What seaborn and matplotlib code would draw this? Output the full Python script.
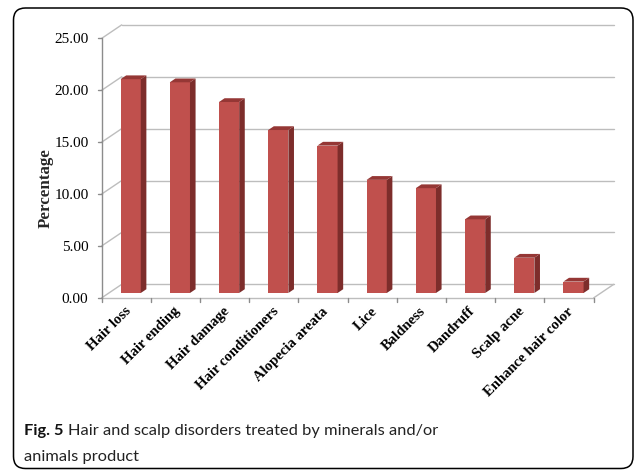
"""
Hair and scalp disorders treated by minerals and/or animals product (Fig. 5)
Excel-like 3D column chart redrawn with seaborn + matplotlib
"""

import matplotlib
matplotlib.use('Agg')
import matplotlib.pyplot as plt
import matplotlib.transforms as mtransforms
from matplotlib.patches import Polygon, FancyBboxPatch
import seaborn as sns

# data
categories = ['Hair loss', 'Hair ending', 'Hair damage', 'Hair conditioners',
              'Alopecia areata', 'Lice', 'Baldness', 'Dandruff', 'Scalp acne',
              'Enhance hair color']
percentages = [20.6, 20.3, 18.4, 15.7, 14.2, 10.9, 10.1, 7.1, 3.4, 1.1]
y_ticks = [0, 5, 10, 15, 20, 25]

FRONT = '#c0504d'
SIDE = '#7d2d2b'
TOP = '#953735'
GRID = '#bdbdbd'
AXIS = '#8c8c8c'

# 3D depth of the chart box (pixels), bars sit at mid-depth
DEPTH_X, DEPTH_Y = 20, 13.5
BAR_PLANE = 0.36
BAR_DEPTH = 0.28

sns.set_theme(style='white')
plt.rcParams['font.family'] = ['Liberation Serif', 'DejaVu Serif']

fig = plt.figure(figsize=(6.36, 4.7), dpi=100)
ax = fig.add_axes([0.1712, 0.3766, 0.7736, 0.5521])

sns.barplot(x=categories, y=percentages, color=FRONT, saturation=1,
            width=0.41, linewidth=0, ax=ax, zorder=3)
ax.set_xlim(-0.5, len(categories) - 0.5)
ax.set_ylim(y_ticks[0], y_ticks[-1])
sns.despine(ax=ax, left=True, bottom=True, top=True, right=True)
ax.set_facecolor('none')

# pixel -> data units
px_x = (len(categories)) / ax.bbox.width
px_y = (y_ticks[-1] - y_ticks[0]) / ax.bbox.height

fx, fy = -BAR_PLANE * DEPTH_X * px_x, -BAR_PLANE * DEPTH_Y * px_y
bx, by = (1 - BAR_PLANE) * DEPTH_X * px_x, (1 - BAR_PLANE) * DEPTH_Y * px_y
sx, sy = BAR_DEPTH * DEPTH_X * px_x, BAR_DEPTH * DEPTH_Y * px_y

x_left, x_right = -0.5, len(categories) - 0.5

# back wall gridlines + left wall diagonals
for v in y_ticks:
    ax.plot([x_left + bx, x_right + bx], [v + by, v + by], color=GRID,
            lw=1, zorder=0, clip_on=False)
    ax.plot([x_left + fx, x_left + bx], [v + fy, v + by], color=GRID,
            lw=1, zorder=0, clip_on=False)
    # small tick on the front axis
    ax.plot([x_left + fx - 4 * px_x, x_left + fx], [v + fy, v + fy],
            color=AXIS, lw=1, zorder=1, clip_on=False)

# floor
ax.plot([x_left + fx, x_right + fx], [fy, fy], color=GRID, lw=1,
        zorder=1, clip_on=False)
ax.plot([x_right + fx, x_right + bx], [fy, by], color=GRID, lw=1,
        zorder=1, clip_on=False)
for k in range(len(categories) + 1):
    ax.plot([k - 0.5 + fx, k - 0.5 + fx], [fy, fy - 4 * px_y], color=AXIS,
            lw=1, zorder=1, clip_on=False)

# front vertical axis
ax.plot([x_left + fx, x_left + fx], [y_ticks[0] + fy, y_ticks[-1] + fy],
        color=AXIS, lw=1, zorder=1, clip_on=False)

# 3D sides and tops of the bars
for p in ax.patches:
    x0 = p.get_x() - sx / 2
    p.set_x(x0)
    x1 = x0 + p.get_width()
    h = p.get_height()
    ax.add_patch(Polygon([(x1, 0), (x1 + sx, sy), (x1 + sx, h + sy), (x1, h)],
                         closed=True, facecolor=SIDE, edgecolor='none',
                         zorder=3, clip_on=False))
    ax.add_patch(Polygon([(x0, h), (x1, h), (x1 + sx, h + sy), (x0 + sx, h + sy)],
                         closed=True, facecolor=TOP, edgecolor='none',
                         zorder=3, clip_on=False))

# ticks and labels
front_shift = mtransforms.ScaledTranslation(-BAR_PLANE * DEPTH_X / 100,
                                            -BAR_PLANE * DEPTH_Y / 100,
                                            fig.dpi_scale_trans)
ax.set_yticks(y_ticks)
ax.set_yticklabels([f'{v:.2f}' for v in y_ticks], fontsize=11)
ax.tick_params(axis='y', length=0, pad=9.5, colors='black')
for lab in ax.get_yticklabels():
    lab.set_transform(lab.get_transform() + front_shift)

ax.set_xticks(range(len(categories)))
ax.set_xticklabels(categories, rotation=45, ha='right', rotation_mode='anchor',
                   fontweight='bold', fontsize=10.6)
ax.tick_params(axis='x', length=0, pad=5, colors='black')
x_shift = mtransforms.ScaledTranslation(-2 / 100, 0, fig.dpi_scale_trans)
for lab in ax.get_xticklabels():
    lab.set_transform(lab.get_transform() + front_shift + x_shift)

ax.set_xlabel('')
ax.set_ylabel('Percentage', fontweight='bold', fontsize=12.2)
ax.yaxis.set_label_coords(-0.113, 0.405)

# rounded frame round the figure
frame = FancyBboxPatch((0.135, 0.015), 6.195, 4.605,
                       boxstyle='round,pad=0,rounding_size=0.12',
                       transform=fig.dpi_scale_trans, facecolor='none',
                       edgecolor='black', lw=1.1)
fig.patches.append(frame)

# caption
renderer = fig.canvas.get_renderer()
cap_font = ['Lato', 'DejaVu Sans']
t_bold = fig.text(24 / 636, 1 - 435 / 470, 'Fig. 5', fontweight='bold',
                  fontsize=11.8, family=cap_font, va='baseline', color='#111111')
bb = t_bold.get_window_extent(renderer)
fig.text((bb.x1 + 5) / 636, 1 - 435 / 470,
         'Hair and scalp disorders treated by minerals and/or',
         fontsize=11.8, family=cap_font, va='baseline', color='#222222')
fig.text(24 / 636, 1 - 461 / 470, 'animals product', fontsize=11.8,
         family=cap_font, va='baseline', color='#222222')

fig.savefig('out.png', dpi=100)
